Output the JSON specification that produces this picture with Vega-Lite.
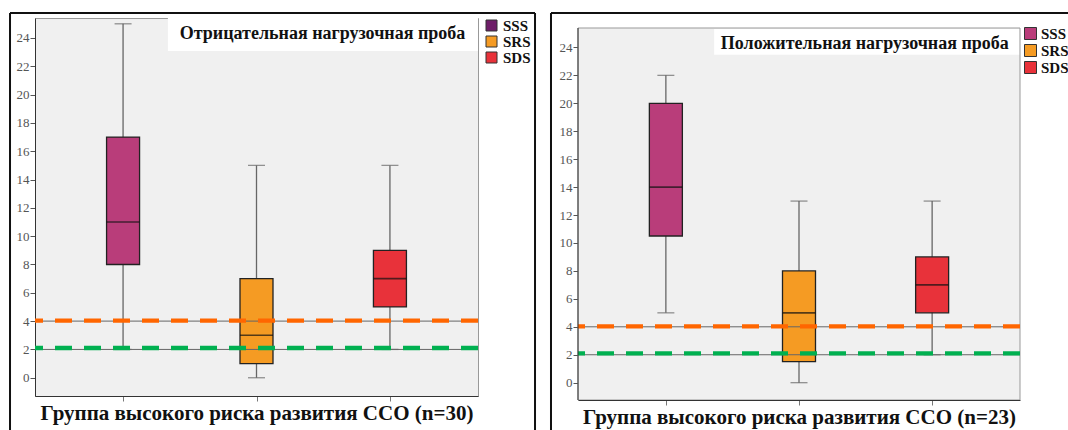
{
  "$schema": "https://vega.github.io/schema/vega-lite/v6.json",
  "background": "white",
  "padding": {"left": 8, "top": 11, "right": 0, "bottom": 0},
  "datasets": {
    "neg": [
      {"group": "SSS", "min": 2, "q1": 8, "median": 11, "q3": 17, "max": 25},
      {"group": "SRS", "min": 0, "q1": 1, "median": 3, "q3": 7, "max": 15},
      {"group": "SDS", "min": 2, "q1": 5, "median": 7, "q3": 9, "max": 15}
    ],
    "pos": [
      {"group": "SSS", "min": 5, "q1": 10.5, "median": 14, "q3": 20, "max": 22},
      {"group": "SRS", "min": 0, "q1": 1.5, "median": 5, "q3": 8, "max": 13},
      {"group": "SDS", "min": 2, "q1": 5, "median": 7, "q3": 9, "max": 13}
    ]
  },
  "spacing": 12,
  "hconcat": [
    {
      "width": 443,
      "height": 378,
      "layer": [
        {
          "data": {"name": "neg"},
          "layer": [
            {"mark": {"type": "square", "size": 100, "opacity": 1},
             "encoding": {
               "x": {"field": "group", "type": "nominal", "scale": {"type": "point", "domain": ["SSS", "SRS", "SDS"], "padding": 0.66}, "axis": {"labels": false, "ticks": true, "tickSize": 5, "tickColor": "#777", "domainColor": "#333", "title": "Группа высокого риска развития ССО (n=30)", "titleFont": "Liberation Serif", "titleFontSize": 21, "titleFontWeight": "bold", "titleColor": "#111", "titlePadding": 1, "grid": false}},
               "y": {"field": "median", "type": "quantitative", "title": null, "scale": {"domain": [-1.29, 25.41], "nice": false, "zero": false}, "axis": {"values": [0, 2, 4, 6, 8, 10, 12, 14, 16, 18, 20, 22, 24], "tickCount": 13, "labelOverlap": false, "title": null, "labelFont": "Liberation Serif", "labelFontSize": 13, "labelColor": "#555", "tickColor": "#555", "tickSize": 5, "labelPadding": 1, "domainColor": "#333", "grid": false}},
               "color": {"field": "group", "type": "nominal",
                 "scale": {"domain": ["SSS", "SRS", "SDS"], "range": ["#6e1d68", "#f59b23", "#e8323a"]},
                 "legend": {"title": null, "orient": "right", "offset": 6, "padding": 0, "symbolType": "square", "symbolSize": 121, "symbolStrokeColor": "#333", "symbolStrokeWidth": 1, "labelFont": "Liberation Serif", "labelFontSize": 15, "labelFontWeight": "bold", "labelColor": "#111", "labelOffset": 4, "rowPadding": 0, "symbolOpacity": 1,
                   "encode": {"symbols": {"update": {"stroke": {"value": "#333"}, "strokeWidth": {"value": 1}}}}}
               }
             }},
            {"mark": {"type": "rule", "color": "#666", "strokeWidth": 1.3},
             "encoding": {
               "x": {"field": "group", "type": "nominal", "scale": {"type": "point", "domain": ["SSS", "SRS", "SDS"], "padding": 0.66}},
               "y": {"field": "min", "type": "quantitative", "title": null, "scale": {"domain": [-1.29, 25.41], "nice": false, "zero": false}},
               "y2": {"field": "max"}
             }},
            {"mark": {"type": "tick", "color": "#666", "size": 17, "thickness": 1.3},
             "encoding": {
               "x": {"field": "group", "type": "nominal", "scale": {"type": "point", "domain": ["SSS", "SRS", "SDS"], "padding": 0.66}},
               "y": {"field": "max", "type": "quantitative", "title": null, "scale": {"domain": [-1.29, 25.41], "nice": false, "zero": false}}
             }},
            {"mark": {"type": "tick", "color": "#666", "size": 17, "thickness": 1.3},
             "encoding": {
               "x": {"field": "group", "type": "nominal", "scale": {"type": "point", "domain": ["SSS", "SRS", "SDS"], "padding": 0.66}},
               "y": {"field": "min", "type": "quantitative", "title": null, "scale": {"domain": [-1.29, 25.41], "nice": false, "zero": false}}
             }},
            {"mark": {"type": "bar", "width": 33, "stroke": "#222", "strokeWidth": 1.3, "opacity": 1},
             "encoding": {
               "x": {"field": "group", "type": "nominal", "scale": {"type": "point", "domain": ["SSS", "SRS", "SDS"], "padding": 0.66}},
               "y": {"field": "q3", "type": "quantitative", "title": null, "scale": {"domain": [-1.29, 25.41], "nice": false, "zero": false}},
               "y2": {"field": "q1"},
               "fill": {"field": "group", "type": "nominal",
                 "scale": {"domain": ["SSS", "SRS", "SDS"], "range": ["#b93d7a", "#f59b23", "#e8323a"]},
                 "legend": null}
             }},
            {"mark": {"type": "tick", "color": "#111", "size": 33, "thickness": 1.6},
             "encoding": {
               "x": {"field": "group", "type": "nominal", "scale": {"type": "point", "domain": ["SSS", "SRS", "SDS"], "padding": 0.66}},
               "y": {"field": "median", "type": "quantitative", "title": null, "scale": {"domain": [-1.29, 25.41], "nice": false, "zero": false}}
             }},
            {"data": {"values": [{}]}, "mark": {"type": "rule", "color": "#666", "strokeWidth": 1},
             "encoding": {"y": {"datum": 4, "type": "quantitative", "scale": {"domain": [-1.29, 25.41], "nice": false, "zero": false}}}},
            {"data": {"values": [{}]}, "mark": {"type": "rule", "color": "#666", "strokeWidth": 1},
             "encoding": {"y": {"datum": 2, "type": "quantitative", "scale": {"domain": [-1.29, 25.41], "nice": false, "zero": false}}}},
            {"data": {"values": [{}]}, "mark": {"type": "rule", "color": "#ff6600", "strokeWidth": 4.3, "strokeDash": [17, 12]},
             "encoding": {"y": {"datum": 4.03, "type": "quantitative", "scale": {"domain": [-1.29, 25.41], "nice": false, "zero": false}}}},
            {"data": {"values": [{}]}, "mark": {"type": "rule", "color": "#00b050", "strokeWidth": 4.3, "strokeDash": [17, 12]},
             "encoding": {"y": {"datum": 2.1, "type": "quantitative", "scale": {"domain": [-1.29, 25.41], "nice": false, "zero": false}}}}
          ]
        },
        {
          "data": {"values": [{}]},
          "layer": [
            {"mark": {"type": "rect", "fill": "white"},
             "encoding": {
               "x": {"datum": 0.30, "type": "quantitative", "scale": {"domain": [0, 1], "nice": false, "zero": false}, "axis": null},
               "x2": {"datum": 1.0},
               "y": {"datum": 25.41, "type": "quantitative", "scale": {"domain": [-1.29, 25.41], "nice": false, "zero": false}},
               "y2": {"datum": 23.08}
             }},
            {"mark": {"type": "text", "font": "Liberation Serif", "fontSize": 18, "fontWeight": "bold", "color": "#111", "align": "center", "baseline": "middle"},
             "encoding": {
               "x": {"datum": 0.649, "type": "quantitative", "scale": {"domain": [0, 1], "nice": false, "zero": false}, "axis": null},
               "y": {"datum": 24.31, "type": "quantitative", "scale": {"domain": [-1.29, 25.41], "nice": false, "zero": false}},
               "text": {"value": "Отрицательная нагрузочная проба"}
             }},
            {"mark": {"type": "rule", "color": "#111", "strokeWidth": 2},
             "encoding": {
               "x": {"datum": -0.0564, "type": "quantitative", "scale": {"domain": [0, 1], "nice": false, "zero": false}, "axis": null},
               "x2": {"datum": 1.1287},
               "y": {"datum": 25.763, "type": "quantitative", "scale": {"domain": [-1.29, 25.41], "nice": false, "zero": false}}
             }},
            {"mark": {"type": "rule", "color": "#111", "strokeWidth": 2},
             "encoding": {
               "x": {"datum": -0.0564, "type": "quantitative", "scale": {"domain": [0, 1], "nice": false, "zero": false}, "axis": null},
               "y": {"datum": 25.763, "type": "quantitative", "scale": {"domain": [-1.29, 25.41], "nice": false, "zero": false}},
               "y2": {"datum": -4.5}
             }},
            {"mark": {"type": "rule", "color": "#111", "strokeWidth": 2},
             "encoding": {
               "x": {"datum": 1.1287, "type": "quantitative", "scale": {"domain": [0, 1], "nice": false, "zero": false}, "axis": null},
               "y": {"datum": 25.763, "type": "quantitative", "scale": {"domain": [-1.29, 25.41], "nice": false, "zero": false}},
               "y2": {"datum": -4.5}
             }}
          ]
        }
      ],
      "resolve": {"scale": {"x": "independent"}, "axis": {"x": "independent"}}
    },
    {
      "width": 442,
      "height": 382,
      "view": {"fill": null, "stroke": null},
      "layer": [
        {
          "data": {"values": [{}]},
          "mark": {"type": "rect", "fill": "#f0f0f0", "stroke": "#999", "strokeWidth": 1},
          "encoding": {
            "x": {"datum": 0, "type": "quantitative", "scale": {"domain": [0, 1], "nice": false, "zero": false}, "axis": null},
            "x2": {"datum": 1},
            "y": {"datum": 25.39, "type": "quantitative", "scale": {"domain": [-1.24, 26.106], "nice": false, "zero": false}},
            "y2": {"datum": -1.24}
          }
        },
        {
          "data": {"name": "pos"},
          "layer": [
            {"mark": {"type": "rule", "color": "#666", "strokeWidth": 1.3},
             "encoding": {
               "x": {"field": "group", "type": "nominal", "scale": {"type": "point", "domain": ["SSS", "SRS", "SDS"], "padding": 0.66}, "axis": {"labels": false, "ticks": true, "tickSize": 5, "tickColor": "#777", "domainColor": "#333", "zindex": 1, "title": "Группа высокого риска развития ССО (n=23)", "titleFont": "Liberation Serif", "titleFontSize": 21, "titleFontWeight": "bold", "titleColor": "#111", "titlePadding": 1, "grid": false}},
               "y": {"field": "min", "type": "quantitative", "title": null, "scale": {"domain": [-1.24, 26.106], "nice": false, "zero": false}, "axis": {"values": [0, 2, 4, 6, 8, 10, 12, 14, 16, 18, 20, 22, 24], "tickCount": 13, "labelOverlap": false, "title": null, "labelFont": "Liberation Serif", "labelFontSize": 13, "labelColor": "#555", "tickColor": "#555", "tickSize": 5, "labelPadding": 1, "domain": false, "grid": false}},
               "y2": {"field": "max"}
             }},
            {"mark": {"type": "tick", "color": "#666", "size": 17, "thickness": 1.3},
             "encoding": {
               "x": {"field": "group", "type": "nominal", "scale": {"type": "point", "domain": ["SSS", "SRS", "SDS"], "padding": 0.66}},
               "y": {"field": "max", "type": "quantitative", "title": null, "scale": {"domain": [-1.24, 26.106], "nice": false, "zero": false}}
             }},
            {"mark": {"type": "tick", "color": "#666", "size": 17, "thickness": 1.3},
             "encoding": {
               "x": {"field": "group", "type": "nominal", "scale": {"type": "point", "domain": ["SSS", "SRS", "SDS"], "padding": 0.66}},
               "y": {"field": "min", "type": "quantitative", "title": null, "scale": {"domain": [-1.24, 26.106], "nice": false, "zero": false}}
             }},
            {"mark": {"type": "bar", "width": 33, "stroke": "#222", "strokeWidth": 1.3, "opacity": 1},
             "encoding": {
               "x": {"field": "group", "type": "nominal", "scale": {"type": "point", "domain": ["SSS", "SRS", "SDS"], "padding": 0.66}},
               "y": {"field": "q3", "type": "quantitative", "title": null, "scale": {"domain": [-1.24, 26.106], "nice": false, "zero": false}},
               "y2": {"field": "q1"},
               "color": {"field": "group", "type": "nominal",
                 "scale": {"domain": ["SSS", "SRS", "SDS"], "range": ["#b93d7a", "#f59b23", "#e8323a"]},
                 "legend": {"title": null, "orient": "none", "legendX": 445, "legendY": 8, "padding": 0, "symbolType": "square", "symbolSize": 144, "symbolStrokeColor": "#333", "symbolStrokeWidth": 1, "labelFont": "Liberation Serif", "labelFontSize": 15, "labelFontWeight": "bold", "labelColor": "#111", "labelOffset": 3, "rowPadding": 0, "symbolOpacity": 1,
                   "encode": {"symbols": {"update": {"stroke": {"value": "#333"}, "strokeWidth": {"value": 1}}}}}
               }
             }},
            {"mark": {"type": "tick", "color": "#111", "size": 33, "thickness": 1.6},
             "encoding": {
               "x": {"field": "group", "type": "nominal", "scale": {"type": "point", "domain": ["SSS", "SRS", "SDS"], "padding": 0.66}},
               "y": {"field": "median", "type": "quantitative", "title": null, "scale": {"domain": [-1.24, 26.106], "nice": false, "zero": false}}
             }},
            {"data": {"values": [{}]}, "mark": {"type": "rule", "color": "#666", "strokeWidth": 1},
             "encoding": {"y": {"datum": 4, "type": "quantitative", "scale": {"domain": [-1.24, 26.106], "nice": false, "zero": false}}}},
            {"data": {"values": [{}]}, "mark": {"type": "rule", "color": "#666", "strokeWidth": 1},
             "encoding": {"y": {"datum": 2, "type": "quantitative", "scale": {"domain": [-1.24, 26.106], "nice": false, "zero": false}}}},
            {"data": {"values": [{}]}, "mark": {"type": "rule", "color": "#ff6600", "strokeWidth": 4.3, "strokeDash": [17, 12]},
             "encoding": {"y": {"datum": 4.03, "type": "quantitative", "scale": {"domain": [-1.24, 26.106], "nice": false, "zero": false}}}},
            {"data": {"values": [{}]}, "mark": {"type": "rule", "color": "#00b050", "strokeWidth": 4.3, "strokeDash": [17, 12]},
             "encoding": {"y": {"datum": 2.1, "type": "quantitative", "scale": {"domain": [-1.24, 26.106], "nice": false, "zero": false}}}}
          ]
        },
        {
          "data": {"values": [{}]},
          "layer": [
            {"mark": {"type": "rect", "fill": "white"},
             "encoding": {
               "x": {"datum": 0.308, "type": "quantitative", "scale": {"domain": [0, 1], "nice": false, "zero": false}, "axis": null},
               "x2": {"datum": 0.998},
               "y": {"datum": 25.32, "type": "quantitative", "scale": {"domain": [-1.24, 26.106], "nice": false, "zero": false}},
               "y2": {"datum": 23.48}
             }},
            {"mark": {"type": "text", "font": "Liberation Serif", "fontSize": 18, "fontWeight": "bold", "color": "#111", "align": "center", "baseline": "middle"},
             "encoding": {
               "x": {"datum": 0.649, "type": "quantitative", "scale": {"domain": [0, 1], "nice": false, "zero": false}, "axis": null},
               "y": {"datum": 24.27, "type": "quantitative", "scale": {"domain": [-1.24, 26.106], "nice": false, "zero": false}},
               "text": {"value": "Положительная нагрузочная проба"}
             }},
            {"mark": {"type": "rule", "color": "#333", "strokeWidth": 1},
             "encoding": {
               "x": {"datum": 0, "type": "quantitative", "scale": {"domain": [0, 1], "nice": false, "zero": false}, "axis": null},
               "y": {"datum": 25.39, "type": "quantitative", "scale": {"domain": [-1.24, 26.106], "nice": false, "zero": false}},
               "y2": {"datum": -1.24}
             }},
            {"mark": {"type": "rule", "color": "#111", "strokeWidth": 2},
             "encoding": {
               "x": {"datum": -0.0611, "type": "quantitative", "scale": {"domain": [0, 1], "nice": false, "zero": false}, "axis": null},
               "x2": {"datum": 1.13},
               "y": {"datum": 26.464, "type": "quantitative", "scale": {"domain": [-1.24, 26.106], "nice": false, "zero": false}}
             }},
            {"mark": {"type": "rule", "color": "#111", "strokeWidth": 2},
             "encoding": {
               "x": {"datum": -0.0611, "type": "quantitative", "scale": {"domain": [0, 1], "nice": false, "zero": false}, "axis": null},
               "y": {"datum": 26.464, "type": "quantitative", "scale": {"domain": [-1.24, 26.106], "nice": false, "zero": false}},
               "y2": {"datum": -4.5}
             }}
          ]
        }
      ],
      "resolve": {"scale": {"x": "independent"}, "axis": {"x": "independent"}}
    }
  ],
  "resolve": {"scale": {"color": "independent", "fill": "independent", "x": "independent", "y": "independent"}, "legend": {"color": "independent"}},
  "config": {
    "view": {"fill": "#f0f0f0", "stroke": "#999", "strokeWidth": 1},
    "axis": {"grid": false}
  }
}
